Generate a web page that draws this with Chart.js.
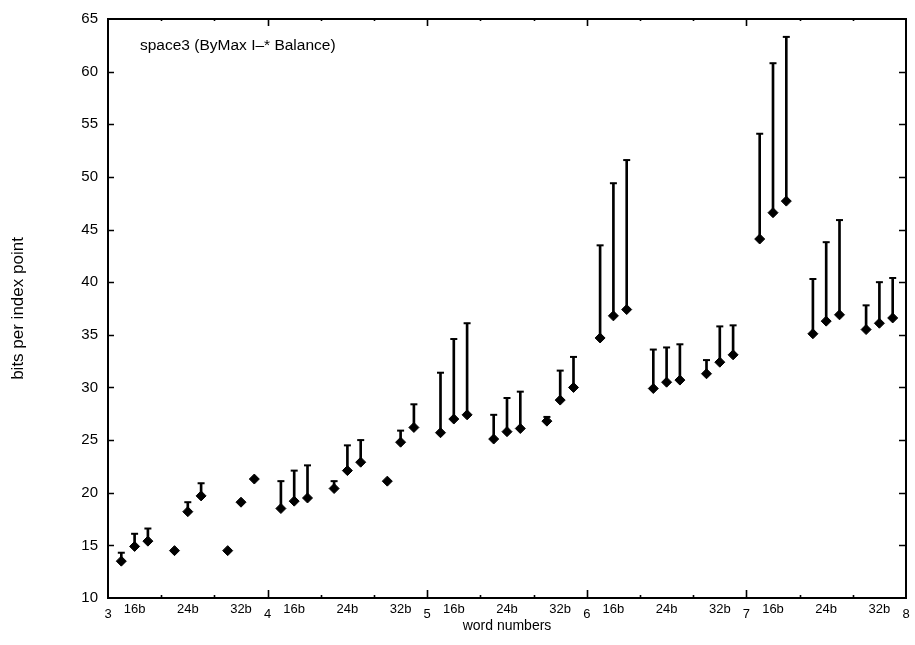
<!DOCTYPE html>
<html>
<head>
<meta charset="utf-8">
<script src="https://cdn.jsdelivr.net/npm/chart.js@4/dist/chart.umd.min.js"></script>
<style>
  html, body { margin: 0; padding: 0; background: #fff; }
  canvas { display: block; }
</style>
</head>
<body>
<canvas id="chart" width="915" height="645"></canvas>
<script>
// Word numbers along the x axis; each is split into three bit widths,
// and each bit width holds three runs.
const words = [3, 4, 5, 6, 7];
const lastWord = 8;
const widthLabels = ['16b', '24b', '32b'];
const yMin = 10, yMax = 65, yStep = 5;

// Measured bits per index point (runs 1-3 of 16b, 24b, 32b).
const bitsW3 = [13.5, 14.9, 15.4, 14.5, 18.2, 19.7, 14.5, 19.1, 21.3];
const bitsW4 = [18.5, 19.2, 19.5, 20.4, 22.1, 22.9, 21.1, 24.8, 26.2];
const bitsW5 = [25.7, 27.0, 27.4, 25.1, 25.8, 26.1, 26.8, 28.8, 30.0];
const bitsW6 = [34.7, 36.8, 37.4, 29.9, 30.5, 30.7, 31.3, 32.4, 33.1];
const bitsW7 = [44.1, 46.6, 47.7, 35.1, 36.3, 36.9, 35.5, 36.1, 36.6];

// Upper bound of each run (null: no bar drawn).
const upperW3 = [14.3, 16.1, 16.6, null, 19.1, 20.9, null, null, null];
const upperW4 = [21.1, 22.1, 22.6, 21.1, 24.5, 25.0, null, 25.9, 28.4];
const upperW5 = [31.4, 34.6, 36.1, 27.4, 29.0, 29.6, 27.2, 31.6, 32.9];
const upperW6 = [43.5, 49.4, 51.6, 33.6, 33.8, 34.1, 32.6, 35.8, 35.9];
const upperW7 = [54.1, 60.8, 63.3, 40.3, 43.8, 45.9, 37.8, 40.0, 40.4];

const bitsByWord = [bitsW3, bitsW4, bitsW5, bitsW6, bitsW7];
const upperByWord = [upperW3, upperW4, upperW5, upperW6, upperW7];

const FONT = '"Liberation Sans", Arial, Helvetica, sans-serif';

// Each run sits at word + (4*width + run + 1)/12 on the linear x scale.
const points = [], bars = [], caps = [];
words.forEach((w, wi) => {
  bitsByWord[wi].forEach((v, k) => {
    const g = Math.floor(k / 3), r = k % 3;
    const x = w + (4 * g + r + 1) / 12;
    points.push({ x, y: v });
    const u = upperByWord[wi][k];
    if (u !== null) {
      bars.push({ x, y: [v, u] });
      caps.push({ x, y: u });
    }
  });
});

// Frame with inward tick marks on all four sides, plus the panel caption.
const framePlugin = {
  id: 'frame',
  beforeDatasetsDraw(chart) {
    const { ctx, chartArea: a, scales: { x, y } } = chart;
    ctx.save();
    ctx.strokeStyle = '#000';
    ctx.lineWidth = 2;
    ctx.strokeRect(a.left, a.top, a.right - a.left, a.bottom - a.top);
    ctx.lineWidth = 1.6;
    ctx.beginPath();
    for (let v = yMin + yStep; v < yMax; v += yStep) {
      const py = Math.round(y.getPixelForValue(v)) + 0.5;
      ctx.moveTo(a.left, py); ctx.lineTo(a.left + 6, py);
      ctx.moveTo(a.right, py); ctx.lineTo(a.right - 7, py);
    }
    for (let w = words[0]; w <= lastWord; w++) {
      if (w > words[0] && w < lastWord) {
        const px = Math.round(x.getPixelForValue(w)) + 0.5;
        ctx.moveTo(px, a.bottom); ctx.lineTo(px, a.bottom - 8);
        ctx.moveTo(px, a.top); ctx.lineTo(px, a.top + 7);
      }
      if (w < lastWord) {
        for (const f of [1 / 3, 2 / 3]) {
          const px = Math.round(x.getPixelForValue(w + f)) + 0.5;
          ctx.moveTo(px, a.bottom); ctx.lineTo(px, a.bottom - 3);
          ctx.moveTo(px, a.top); ctx.lineTo(px, a.top + 2);
        }
      }
    }
    ctx.stroke();
    ctx.restore();
  },
  afterDraw(chart) {
    const { ctx, chartArea: a } = chart;
    ctx.save();
    ctx.fillStyle = '#000';
    ctx.font = '15.5px ' + FONT;
    ctx.textBaseline = 'alphabetic';
    ctx.fillText('space3 (ByMax I\u2013* Balance)', a.left + 32, a.top + 31);
    ctx.restore();
  }
};

new Chart(document.getElementById('chart'), {
  type: 'scatter',
  data: {
    datasets: [
      {
        label: 'bits',
        data: points,
        pointStyle: 'rectRot',
        pointRadius: 5,
        pointHoverRadius: 5,
        backgroundColor: '#000',
        borderColor: '#000',
        borderWidth: 1,
        order: 0
      },
      {
        label: 'upper',
        data: caps,
        pointStyle: 'line',
        pointRadius: 3.5,
        pointHoverRadius: 3.5,
        borderColor: '#000',
        borderWidth: 2,
        order: 1
      },
      {
        type: 'bar',
        label: 'range',
        data: bars,
        backgroundColor: '#000',
        borderWidth: 0,
        barThickness: 2,
        grouped: false,
        order: 2
      }
    ]
  },
  options: {
    responsive: false,
    devicePixelRatio: 1,
    animation: false,
    events: [],
    layout: { padding: { top: 13, right: 9, bottom: 0, left: 0 } },
    plugins: { legend: { display: false }, tooltip: { enabled: false } },
    scales: {
      x: {
        type: 'linear',
        min: words[0],
        max: lastWord,
        offset: false,
        grid: { display: false, drawTicks: false, offset: false },
        border: { display: false },
        afterBuildTicks(scale) {
          const t = [];
          for (let w = words[0]; w <= lastWord; w++) {
            for (let k = 0; k < 6; k++) {
              if (w === lastWord && k > 0) break;
              t.push({ value: w + k / 6 });
            }
          }
          scale.ticks = t;
        },
        afterFit(scale) { scale.height = 47; },
        ticks: {
          autoSkip: false,
          maxRotation: 0,
          padding: 4,
          color: '#000',
          font: (c) => (c.index % 6 === 0)
            ? { family: FONT, size: 13, lineHeight: '8.5px' }
            : { family: FONT, size: 13 },
          callback: (value, index) => {
            const k = index % 6;
            if (k === 0) return ['', String(words[0] + index / 6)];
            if (k % 2 === 1) return widthLabels[(k - 1) / 2];
            return '';
          }
        },
        title: {
          display: true,
          text: 'word numbers',
          color: '#000',
          font: { family: FONT, size: 14 },
          padding: { top: 0, bottom: 10 }
        }
      },
      y: {
        min: yMin,
        max: yMax,
        grid: { display: false, drawTicks: false },
        border: { display: false },
        afterFit(scale) { scale.width = 108; },
        ticks: {
          stepSize: yStep,
          padding: 10,
          color: '#000',
          font: { family: FONT, size: 15 }
        },
        title: {
          display: true,
          text: 'bits per index point',
          color: '#000',
          font: { family: FONT, size: 17 },
          padding: { top: 8, bottom: 0 }
        }
      }
    }
  },
  plugins: [framePlugin]
});
</script>
</body>
</html>
